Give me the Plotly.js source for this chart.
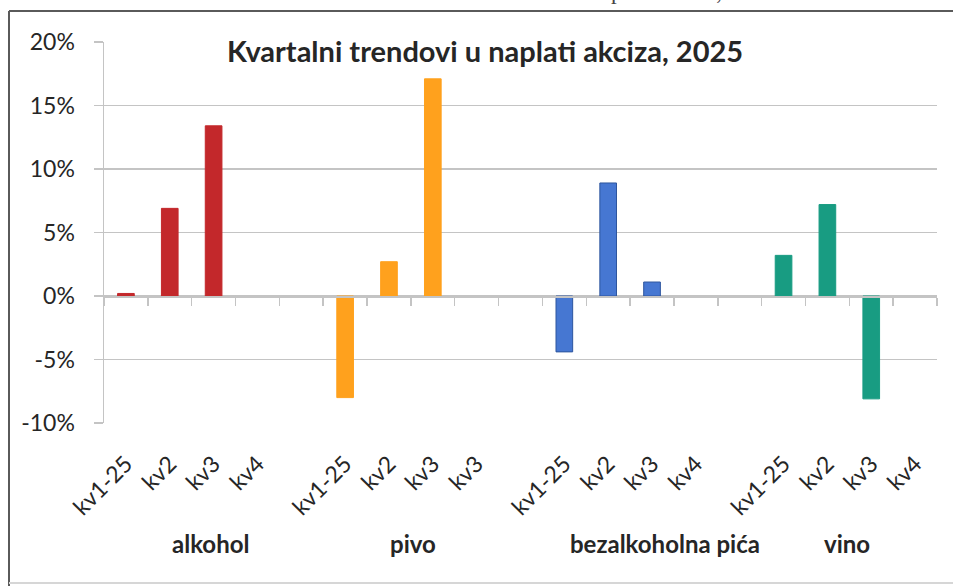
<!DOCTYPE html>
<html>
<head>
<meta charset="utf-8">
<script src="https://cdn.plot.ly/plotly-3.0.1.min.js"></script>
<style>
  html, body { margin: 0; padding: 0; background: #ffffff; }
  #chart { width: 953px; height: 586px; }
</style>
</head>
<body>
<div id="chart"></div>
<script>
// ---- data ----
const groupNames = ['alkohol', 'pivo', 'bezalkoholna pića', 'vino'];
const alkoholQuarters = ['kv1-25', 'kv2', 'kv3', 'kv4'];
const pivoQuarters = ['kv1-25', 'kv2', 'kv3', 'kv3'];
const bezalkQuarters = ['kv1-25', 'kv2', 'kv3', 'kv4'];
const vinoQuarters = ['kv1-25', 'kv2', 'kv3', 'kv4'];
const alkohol = [0.2, 6.9, 13.4, null];
const pivo = [-8.0, 2.7, 17.1, null];
const bezalkoholna = [-4.4, 8.9, 1.1, null];
const vino = [3.2, 7.2, -8.1, null];
const yTicks = [-10, -5, 0, 5, 10, 15, 20];
const titleText = 'Kvartalni trendovi u naplati akciza, 2025';

// ---- build categories (unique keys, with empty spacer slots between groups) ----
const quarterSets = [alkoholQuarters, pivoQuarters, bezalkQuarters, vinoQuarters];
const valueSets = [alkohol, pivo, bezalkoholna, vino];
const colors = ['#c3282b', '#ffa11d', '#4677d2', '#189c82'];
const borders = ['#c3282b', '#ffa11d', '#2d559e', '#189c82'];

const catKeys = [];
const catText = [];
const groupKeys = [];
groupNames.forEach((g, gi) => {
  if (gi > 0) { catKeys.push('gap' + gi); catText.push(''); }
  const keys = quarterSets[gi].map((q, qi) => g + '|' + qi);
  groupKeys.push(keys);
  keys.forEach((k, qi) => { catKeys.push(k); catText.push(quarterSets[gi][qi]); });
});

const traces = groupNames.map((g, gi) => ({
  type: 'bar',
  name: g,
  x: groupKeys[gi],
  y: valueSets[gi],
  width: 0.38,
  marker: { color: colors[gi], line: { color: borders[gi], width: 1 } },
  showlegend: false,
  hoverinfo: 'y'
}));
// helper traces so every slot (incl. spacers) exists on both axes
traces.push({ type: 'scatter', mode: 'none', x: catKeys, y: catKeys.map(() => null), xaxis: 'x', showlegend: false, hoverinfo: 'skip' });
traces.push({ type: 'scatter', mode: 'none', x: catKeys, y: catKeys.map(() => null), xaxis: 'x2', showlegend: false, hoverinfo: 'skip' });

const W = 953, H = 586;
const mL = 104, mR = 16, mT = 42, mB = 163;
const pw = W - mL - mR, ph = H - mT - mB;
const px = v => (v - mL) / pw;
const py = v => (H - mB - v) / ph;
const grey = '#c4c4c4';
const txt = '#262626';
const sans = 'Lato, "Open Sans", sans-serif';

// group label positions (pixel centres)
const groupLabelX = [210, 413, 665, 847];

const annotations = [
  { text: '<b>' + titleText + '</b>', xref: 'paper', yref: 'paper', x: px(485), y: py(51),
    xanchor: 'center', yanchor: 'middle', showarrow: false, font: { family: sans, size: 29, color: txt } },
  { text: titleText, xref: 'paper', yref: 'paper', x: px(585), y: py(6),
    xanchor: 'center', yanchor: 'bottom', showarrow: false, font: { family: '"Liberation Serif", serif', size: 23, color: '#444' } }
].concat(groupNames.map((g, gi) => ({
  text: '<b>' + g + '</b>', xref: 'paper', yref: 'paper', x: px(groupLabelX[gi]), y: py(543),
  xanchor: 'center', yanchor: 'middle', showarrow: false, font: { family: sans, size: 24, color: txt }
})));

const shapes = [
  { type: 'line', xref: 'paper', yref: 'paper', x0: px(9), x1: px(9), y0: py(11), y1: py(600), line: { color: '#5a5a5a', width: 2 } },
  { type: 'line', xref: 'paper', yref: 'paper', x0: px(9), x1: px(970), y0: py(11), y1: py(11), line: { color: '#5a5a5a', width: 2 } },
  { type: 'line', xref: 'paper', yref: 'paper', x0: px(9), x1: px(970), y0: py(583), y1: py(583), line: { color: '#d6d6d6', width: 2 } }
];

const layout = {
  width: W, height: H,
  margin: { l: mL, r: mR, t: mT, b: mB, pad: 0 },
  paper_bgcolor: '#ffffff', plot_bgcolor: '#ffffff',
  bargap: 0.6,
  xaxis: {
    type: 'category', categoryorder: 'array', categoryarray: catKeys,
    tickvals: catKeys, ticktext: catText,
    tickangle: -45, ticks: '', showline: false, showgrid: false, zeroline: false,
    ticklabelstandoff: 22,
    tickfont: { family: sans, size: 23, color: txt },
    fixedrange: true
  },
  xaxis2: {
    type: 'category', categoryorder: 'array', categoryarray: catKeys,
    overlaying: 'x', matches: 'x', anchor: 'free', position: (0 - (-10)) / 30,
    tickson: 'boundaries', ticks: 'outside', ticklen: 8, tickwidth: 1.5, tickcolor: grey,
    showticklabels: false, showline: true, linecolor: grey, linewidth: 1.5,
    showgrid: false, zeroline: false
  },
  yaxis: {
    range: [-10, 20], tickvals: yTicks, ticktext: yTicks.map(v => v + '%'),
    showgrid: true, gridcolor: grey, gridwidth: 1.5,
    zeroline: false, showline: true, linecolor: grey, linewidth: 1.5,
    ticks: 'outside', ticklen: 9, tickwidth: 1.5, tickcolor: grey,
    ticklabelstandoff: 14,
    tickfont: { family: sans, size: 23, color: txt },
    fixedrange: true
  },
  annotations: annotations,
  shapes: shapes
};

Plotly.newPlot('chart', traces, layout, { displayModeBar: false, staticPlot: true });
</script>
</body>
</html>
